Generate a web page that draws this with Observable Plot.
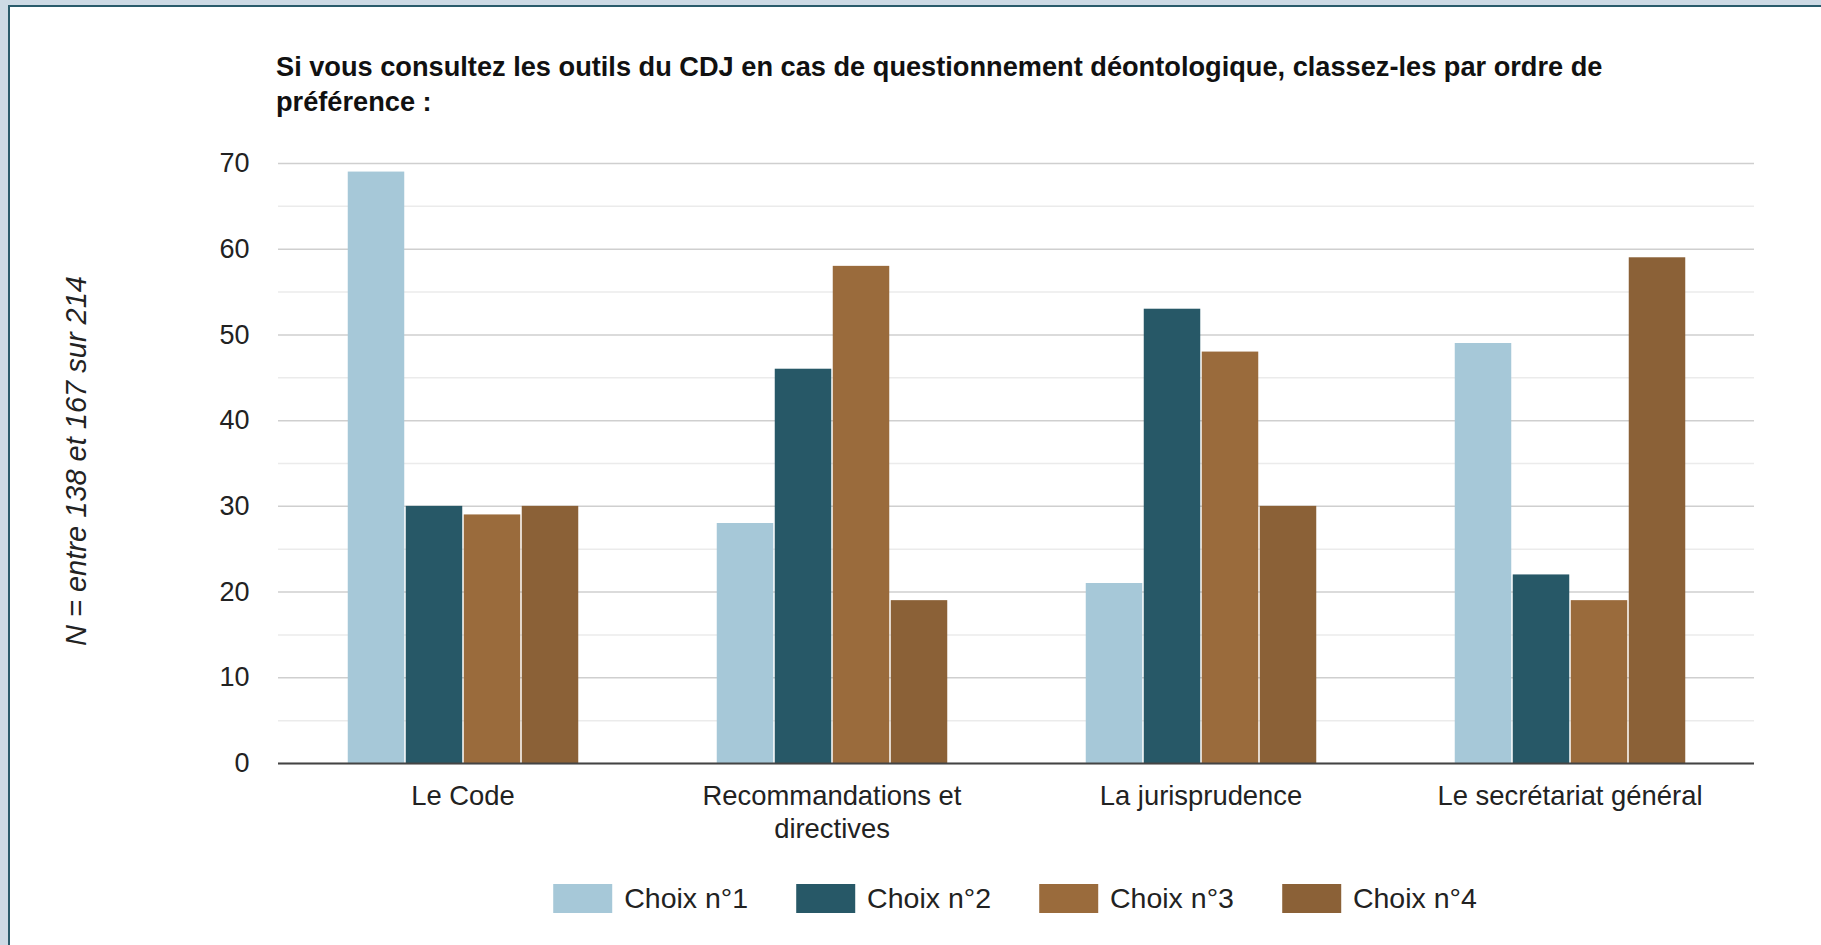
<!DOCTYPE html>
<html>
<head>
<meta charset="utf-8">
<script src="https://cdn.jsdelivr.net/npm/d3@7"></script>
<script src="https://cdn.jsdelivr.net/npm/@observablehq/plot@0.6"></script>
<style>
  html, body { margin: 0; padding: 0; }
  body { width: 1821px; height: 945px; background: #cddae5; position: relative; overflow: hidden;
         font-family: "Liberation Sans", Arial, sans-serif; color: #222; }
  #panel { position: absolute; left: 8px; top: 5px; right: -10px; bottom: -10px; background: #fff;
           border-top: 2px solid #2a5b6b; border-left: 2px solid #2a5b6b; }
  #title { position: absolute; left: 276px; top: 49px; font-weight: bold; font-size: 27.2px; line-height: 35px; color: #111; white-space: nowrap; }
  #ytitle { position: absolute; left: 76px; top: 461px; transform: translate(-50%, -50%) rotate(-90deg);
            font-style: italic; font-size: 29px; white-space: nowrap; color: #222; }
  #chart { position: absolute; left: 0; top: 0; }
  #legend { position: absolute; left: 1015px; top: 882px; transform: translateX(-50%); display: flex; align-items: center; white-space: nowrap; }
  .item { display: flex; align-items: center; margin-right: 48px; font-size: 28.5px; color: #222; }
  .item:last-child { margin-right: 0; }
  .sw { width: 59px; height: 29px; margin-right: 12px; }
</style>
</head>
<body>
<div id="panel"></div>
<div id="title">Si vous consultez les outils du CDJ en cas de questionnement déontologique, classez-les par ordre de<br>préférence :</div>
<div id="ytitle">N = entre 138 et 167 sur 214</div>
<div id="chart"></div>
<div id="legend"></div>
<script>
const categories = ["Le Code", "Recommandations et directives", "La jurisprudence", "Le secrétariat général"];
const categoryLabels = ["Le Code", "Recommandations et\ndirectives", "La jurisprudence", "Le secrétariat général"];
const series = ["Choix n°1", "Choix n°2", "Choix n°3", "Choix n°4"];
const choix1 = [69, 28, 21, 49];
const choix2 = [30, 46, 53, 22];
const choix3 = [29, 58, 48, 19];
const choix4 = [30, 19, 30, 59];
const colors = ["#a6c8d8", "#275867", "#9a6b3c", "#8b6137"];
const yTicks = [0, 10, 20, 30, 40, 50, 60, 70];
const yMinor = [5, 15, 25, 35, 45, 55, 65];

const values = [choix1, choix2, choix3, choix4];
const data = categories.flatMap((c, i) => series.map((s, j) => ({category: c, series: s, value: values[j][i]})));

const chart = Plot.plot({
  width: 1821,
  height: 850,
  marginLeft: 277,
  marginRight: 67,
  marginTop: 163,
  marginBottom: 87,
  style: {fontFamily: "'Liberation Sans', Arial, sans-serif", fontSize: "27px", background: "transparent", color: "#222", overflow: "visible"},
  fx: {domain: categories, padding: 0, label: null},
  x: {domain: series, paddingInner: 0, paddingOuter: 1.17, axis: null},
  y: {domain: [0, 70], label: null},
  color: {domain: series, range: colors},
  marks: [
    Plot.gridY(yMinor, {stroke: "#ebebeb", strokeOpacity: 1, strokeWidth: 1.5}),
    Plot.gridY(yTicks, {stroke: "#cfcfcf", strokeOpacity: 1, strokeWidth: 1.5}),
    Plot.barY(data, {fx: "category", x: "series", y: "value", fill: "series", insetLeft: 0.75, insetRight: 0.75}),
    Plot.ruleY([0], {stroke: "#444", strokeWidth: 2}),
    Plot.axisY(yTicks, {tickSize: 0, tickPadding: 29, label: null, fontSize: 27}),
    Plot.axisFx({anchor: "bottom", tickSize: 0, tickPadding: 17.5, label: null, lineHeight: 1.22, fontSize: 27.4,
      tickFormat: d => categoryLabels[categories.indexOf(d)]})
  ]
});
document.getElementById("chart").appendChild(chart);

const legend = document.getElementById("legend");
series.forEach((s, i) => {
  const item = document.createElement("div");
  item.className = "item";
  const sw = document.createElement("div");
  sw.className = "sw";
  sw.style.background = colors[i];
  const t = document.createElement("span");
  t.textContent = s;
  item.appendChild(sw);
  item.appendChild(t);
  legend.appendChild(item);
});
</script>
</body>
</html>
